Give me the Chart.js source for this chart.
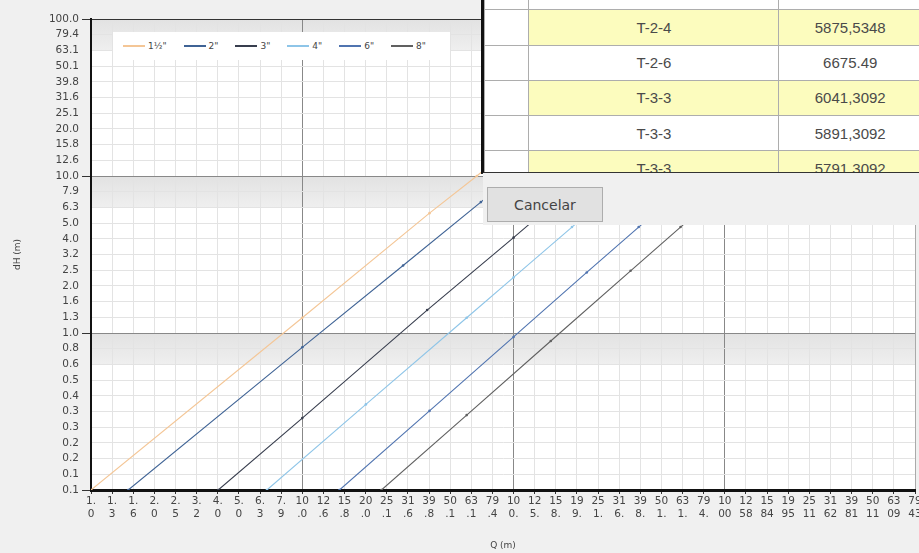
<!DOCTYPE html>
<html>
<head>
<meta charset="utf-8">
<script src="https://cdn.jsdelivr.net/npm/chart.js@4.4.1/dist/chart.umd.min.js"></script>
<style>
  body { margin: 0; background: #f0f0f0; font-family: "DejaVu Sans", sans-serif; }
  #wrap { position: relative; width: 919px; height: 553px; overflow: hidden; background: #f0f0f0; }
  #myChart { position: absolute; left: 0; top: 0; }
  #legend {
    position: absolute; left: 113px; top: 32px; width: 337px; height: 28px;
    background: #fff; display: flex; align-items: center; gap: 17px;
    padding-left: 10px; box-sizing: border-box; font-size: 9px; color: #444;
  }
  #legend .item { display: flex; align-items: center; gap: 3px; }
  #legend .swatch { width: 22px; height: 2px; }
  #popup {
    position: absolute; left: 481px; top: 0; width: 438px; height: 172px;
    overflow: hidden; background: #fff; border-left: 3px solid #111;
    border-bottom: 2px solid #333;
  }
  #codes {
    position: absolute; left: 0; top: -26px; border-collapse: collapse;
    font-family: "Liberation Sans", sans-serif; font-size: 15px; color: #4a4a4a;
    table-layout: fixed;
  }
  #codes td { height: 34px; border: 1px solid #adadad; text-align: center; padding: 0; }
  #codes td.first { background: #fff; }
  #codes tr.odd td.cell { background: #fcfcbe; }
  #dialogBar {
    position: absolute; left: 483px; top: 173px; width: 436px; height: 52px; background: #f0f0f0;
  }
  #dialogBar button {
    position: absolute; left: 4px; top: 14px; width: 116px; height: 35px;
    background: #e1e1e1; border: 1px solid #adadad; border-radius: 0;
    font-family: "DejaVu Sans", sans-serif; font-size: 14px; color: #444;
  }
</style>
</head>
<body>
<div id="wrap">
  <canvas id="myChart" width="919" height="553"></canvas>
  <div id="legend"></div>
  <div id="popup"><table id="codes"></table></div>
  <div id="dialogBar"><button>Cancelar</button></div>
</div>
<script>
// Pipe sizes shown in the legend
const pipeSizes = ['1½"', '2"', '3"', '4"', '6"', '8"'];
const pipeColors = ['#f4c696', '#3f6395', '#383e4e', '#8ec5e8', '#5074b0', '#606060'];

// Flow Q and head loss dH
const q15 = [1, 10, 40, 67, 130];
const dh15 = [0.1, 1.25, 5.8, 10, 21];
const q2 = [1.5, 10, 30, 70, 140];
const dh2 = [0.1, 0.81, 2.69, 6.82, 14.6];
const q3 = [4, 10, 39, 100, 250];
const dh3 = [0.1, 0.287, 1.4, 4.05, 11.6];
const q4 = [6.8, 20, 60, 100, 189, 400];
const dh4 = [0.1, 0.351, 1.25, 2.26, 4.73, 11.3];
const q6 = [15, 40, 100, 222, 391, 800];
const dh6 = [0.1, 0.319, 0.944, 2.43, 4.73, 11.0];
const q8 = [23.7, 60, 150, 358, 617, 1250];
const dh8 = [0.1, 0.3, 0.889, 2.49, 4.73, 10.9];

// Tick labels (10 per decade)
const xTickLabels = ["1.0", "1.3", "1.6", "2.0", "2.5", "3.2", "4.0", "5.0", "6.3", "7.9",
  "10.0", "12.6", "15.8", "20.0", "25.1", "31.6", "39.8", "50.1", "63.1", "79.4",
  "100.0", "125.9", "158.5", "199.5", "251.2", "316.2", "398.1", "501.2", "631.0", "794.3",
  "1000.0", "1258.9", "1584.9", "1995.3", "2511.9", "3162.3", "3981.1", "5011.9", "6309.6", "7943.3"];
const yTickLabels = ["0.1", "0.1", "0.2", "0.2", "0.3", "0.3", "0.4", "0.5", "0.6", "0.8",
  "1.0", "1.3", "1.6", "2.0", "2.5", "3.2", "4.0", "5.0", "6.3", "7.9",
  "10.0", "12.6", "15.8", "20.0", "25.1", "31.6", "39.8", "50.1", "63.1", "79.4", "100.0"];

// Popup table rows
const tableCodes = ["", "T-2-4", "T-2-6", "T-3-3", "T-3-3", "T-3-3"];
const tableValues = ["", "5875,5348", "6675.49", "6041,3092", "5891,3092", "5791,3092"];

const xTickValues = xTickLabels.map((l, i) => Math.pow(10, i / 10));
const yTickValues = yTickLabels.map((l, i) => 0.1 * Math.pow(10, i / 10));

function toPoints(q, dh) {
  return q.map((v, i) => ({ x: v, y: dh[i] }));
}
const curves = [[q15, dh15], [q2, dh2], [q3, dh3], [q4, dh4], [q6, dh6], [q8, dh8]];

// Gray bands just under each decade line
const bandPlugin = {
  id: 'bands',
  beforeDraw(chart) {
    const { ctx, chartArea: a, scales: { y } } = chart;
    ctx.save();
    ctx.fillStyle = '#fff';
    ctx.fillRect(a.left, a.top, a.right - a.left, a.bottom - a.top);
    [1, 10, 100].forEach(v => {
      const top = y.getPixelForValue(v);
      const bot = y.getPixelForValue(v * 0.631);
      const g = ctx.createLinearGradient(0, top, 0, bot);
      g.addColorStop(0, '#e2e2e2');
      g.addColorStop(1, '#efefef');
      ctx.fillStyle = g;
      ctx.fillRect(a.left, top, a.right - a.left, bot - top);
    });
    ctx.restore();
  }
};

const tickFont = { family: 'DejaVu Sans', size: 10.5 };

const ctx = document.getElementById("myChart").getContext("2d");
const chart = new Chart(ctx, {
  type: "scatter",
  data: {
    datasets: curves.map((c, i) => ({
      label: pipeSizes[i],
      data: toPoints(c[0], c[1]),
      showLine: true,
      borderColor: pipeColors[i],
      backgroundColor: pipeColors[i],
      borderWidth: 1.1,
      pointRadius: 1.3,
      pointBorderWidth: 0,
    })),
  },
  options: {
    responsive: false,
    animation: false,
    layout: { padding: { top: 19, right: 2, left: 0, bottom: 0 } },
    plugins: { legend: { display: false }, tooltip: { enabled: false } },
    scales: {
      x: {
        type: 'logarithmic',
        min: 1,
        max: xTickValues[xTickValues.length - 1],
        afterBuildTicks: (s) => { s.ticks = xTickValues.map(v => ({ value: v })); },
        afterFit: (s) => { s.height = 63; s.paddingLeft = 0; s.paddingRight = 0; },
        border: { display: true, color: '#111', width: 3 },
        grid: {
          color: (c) => c.index % 10 === 0 ? '#888' : (c.index === 39 ? '#aaa' : '#e3e3e3'),
          tickColor: '#333',
          tickLength: 4,
        },
        ticks: {
          autoSkip: false,
          maxRotation: 0,
          padding: 1,
          font: tickFont,
          color: '#444',
          // long labels wrap into 2-character lines, only two lines fit
          callback: (v, i) => {
            const t = xTickLabels[i];
            return [t.slice(0, 2), t.slice(2, 4)];
          },
        },
        title: {
          display: true, text: 'Q (m)', color: '#444',
          font: { family: 'DejaVu Sans', size: 9 }, padding: { top: 0, bottom: 2 },
        },
      },
      y: {
        type: 'logarithmic',
        min: 0.1,
        max: 100,
        afterBuildTicks: (s) => { s.ticks = yTickValues.map(v => ({ value: v })); },
        afterFit: (s) => { s.width = 91; s.paddingTop = 0; s.paddingBottom = 0; },
        border: { display: true, color: '#111', width: 2 },
        grid: {
          color: (c) => c.index === 30 ? '#333' : (c.index % 10 === 0 ? '#888' : '#e3e3e3'),
          tickColor: (c) => c.index % 10 === 0 ? '#333' : 'rgba(0,0,0,0)',
          tickLength: 9,
        },
        ticks: {
          autoSkip: false,
          padding: 3,
          font: tickFont,
          color: '#444',
          callback: (v, i) => yTickLabels[i],
        },
        title: {
          display: true, text: 'dH (m)', color: '#444',
          font: { family: 'DejaVu Sans', size: 9 }, padding: { top: 12, bottom: 0 },
        },
      },
    },
  },
  plugins: [bandPlugin],
});

// HTML legend built from the chart datasets
const legendEl = document.getElementById("legend");
chart.data.datasets.forEach(ds => {
  const item = document.createElement("div");
  item.className = "item";
  const sw = document.createElement("span");
  sw.className = "swatch";
  sw.style.background = ds.borderColor;
  const lb = document.createElement("span");
  lb.textContent = ds.label;
  item.appendChild(sw);
  item.appendChild(lb);
  legendEl.appendChild(item);
});

// Popup table
const tableEl = document.getElementById("codes");
const colgroup = document.createElement("colgroup");
[49, 275, 150].forEach(w => {
  const col = document.createElement("col");
  col.style.width = w + "px";
  colgroup.appendChild(col);
});
tableEl.appendChild(colgroup);
tableCodes.forEach((code, i) => {
  const tr = document.createElement("tr");
  tr.className = i % 2 === 1 ? "odd" : "even";
  tr.style.height = "35.25px";
  const c0 = document.createElement("td");
  c0.className = "first";
  const c1 = document.createElement("td");
  c1.className = "cell";
  c1.textContent = code;
  const c2 = document.createElement("td");
  c2.className = "cell";
  c2.textContent = tableValues[i];
  tr.appendChild(c0);
  tr.appendChild(c1);
  tr.appendChild(c2);
  tableEl.appendChild(tr);
});
</script>
</body>
</html>
